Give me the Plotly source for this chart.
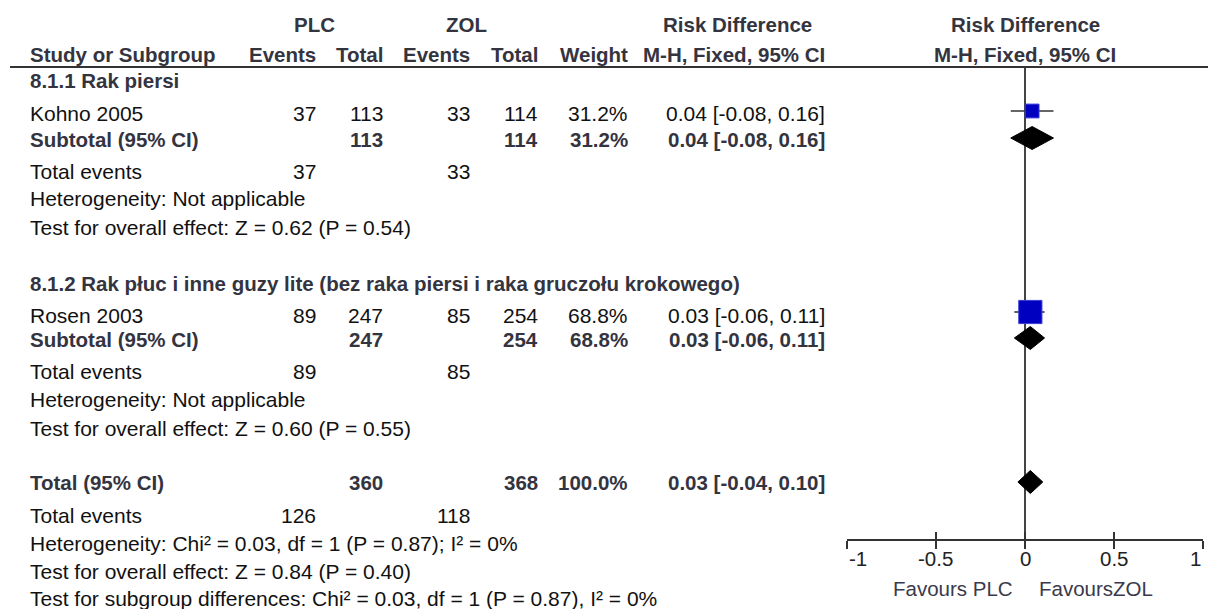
import plotly.graph_objects as go

W, H = 1208, 609

# ---- study data -----------------------------------------------------------
studies = ["Kohno 2005", "Rosen 2003"]
plc_events = [37, 89]
plc_total = [113, 247]
zol_events = [33, 85]
zol_total = [114, 254]
weights = [31.2, 68.8]
rd = [0.04, 0.03]
rd_lo = [-0.08, -0.06]
rd_hi = [0.16, 0.11]

# ---- subgroup pooled results ---------------------------------------------
subgroups = [
    "8.1.1 Rak piersi",
    "8.1.2 Rak płuc i inne guzy lite (bez raka piersi i raka gruczołu krokowego)",
]
sub_rd = [0.04, 0.03]
sub_lo = [-0.08, -0.06]
sub_hi = [0.16, 0.11]
sub_z = ["0.62", "0.60"]
sub_p = ["0.54", "0.55"]

# ---- overall pooled result -------------------------------------------------
total_plc_n = 360
total_zol_n = 368
total_plc_ev = 126
total_zol_ev = 118
total_weight = 100.0
total_rd = 0.03
total_lo = -0.04
total_hi = 0.10
het_text = "Heterogeneity: Chi² = 0.03, df = 1 (P = 0.87); I² = 0%"
overall_text = "Test for overall effect: Z = 0.84 (P = 0.40)"
subgroup_text = "Test for subgroup differences: Chi² = 0.03, df = 1 (P = 0.87), I² = 0%"

tick_vals = [-1, -0.5, 0, 0.5, 1]
tick_text = ["-1", "-0.5", "0", "0.5", "1"]

# ---- layout geometry (pixels) ---------------------------------------------
FONT = "Liberation Sans, Arial, sans-serif"
BOLD_C = "#34343f"
REG_C = "#111111"
LINE_C = "#333333"

col = dict(name=28, plc_ev=318, plc_tot=385, zol_ev=472, zol_tot=540, weight=630, ci=827)
grp = dict(plc=314, zol=466, rd=737, plot=1025)
plot_left, plot_right = 847, 1203

rows = dict(
    hdr1=25, hdr2=54, rule=67,
    g=[81, 283], study=[113, 315], sub=[139, 339], te=[171, 371], het=[198, 399], test=[227, 428],
    tot=482, te3=515, het3=543, test3=571, subg=598,
    axis=540, ticklab=558, favours=588,
)
mark_y = dict(study=[111, 312], sub=[138, 338], tot=482)

annotations = []


def txt(x, y, s, anchor="left", bold=False, size=None, color=None):
    annotations.append(dict(
        x=x / W, y=1 - y / H, xref="paper", yref="paper",
        xanchor=anchor, yanchor="middle", showarrow=False,
        text=f"<b>{s}</b>" if bold else s,
        font=dict(family=FONT, size=size or (20.5 if bold else 21),
                  color=color or (BOLD_C if bold else REG_C)),
    ))


def ci_str(e, lo, hi):
    return f"{e:.2f} [{lo:.2f}, {hi:.2f}]"


# headers
txt(grp["plc"], rows["hdr1"], "PLC", "center", True)
txt(grp["zol"], rows["hdr1"], "ZOL", "center", True)
txt(grp["rd"], rows["hdr1"], "Risk Difference", "center", True)
txt(grp["plot"], rows["hdr1"], "Risk Difference", "center", True)
txt(col["name"], rows["hdr2"], "Study or Subgroup", "left", True)
txt(col["plc_ev"], rows["hdr2"], "Events", "right", True)
txt(col["plc_tot"], rows["hdr2"], "Total", "right", True)
txt(col["zol_ev"], rows["hdr2"], "Events", "right", True)
txt(col["zol_tot"], rows["hdr2"], "Total", "right", True)
txt(col["weight"], rows["hdr2"], "Weight", "right", True)
txt(col["ci"], rows["hdr2"], "M-H, Fixed, 95% CI", "right", True)
txt(grp["plot"], rows["hdr2"], "M-H, Fixed, 95% CI", "center", True)

# subgroup blocks
for i in range(len(subgroups)):
    txt(col["name"], rows["g"][i], subgroups[i], "left", True)
    y = rows["study"][i]
    txt(col["name"], y, studies[i])
    txt(col["plc_ev"], y, str(plc_events[i]), "right")
    txt(col["plc_tot"], y, str(plc_total[i]), "right")
    txt(col["zol_ev"], y, str(zol_events[i]), "right")
    txt(col["zol_tot"], y, str(zol_total[i]), "right")
    txt(col["weight"], y, f"{weights[i]:.1f}%", "right")
    txt(col["ci"], y, ci_str(rd[i], rd_lo[i], rd_hi[i]), "right")
    y = rows["sub"][i]
    txt(col["name"], y, "Subtotal (95% CI)", "left", True)
    txt(col["plc_tot"], y, str(plc_total[i]), "right", True)
    txt(col["zol_tot"], y, str(zol_total[i]), "right", True)
    txt(col["weight"], y, f"{weights[i]:.1f}%", "right", True)
    txt(col["ci"], y, ci_str(sub_rd[i], sub_lo[i], sub_hi[i]), "right", True)
    y = rows["te"][i]
    txt(col["name"], y, "Total events")
    txt(col["plc_ev"], y, str(plc_events[i]), "right")
    txt(col["zol_ev"], y, str(zol_events[i]), "right")
    txt(col["name"], rows["het"][i], "Heterogeneity: Not applicable")
    txt(col["name"], rows["test"][i],
        f"Test for overall effect: Z = {sub_z[i]} (P = {sub_p[i]})")

# overall block
txt(col["name"], rows["tot"], "Total (95% CI)", "left", True)
txt(col["plc_tot"], rows["tot"], str(total_plc_n), "right", True)
txt(col["zol_tot"], rows["tot"], str(total_zol_n), "right", True)
txt(col["weight"], rows["tot"], f"{total_weight:.1f}%", "right", True)
txt(col["ci"], rows["tot"], ci_str(total_rd, total_lo, total_hi), "right", True)
txt(col["name"], rows["te3"], "Total events")
txt(col["plc_ev"], rows["te3"], str(total_plc_ev), "right")
txt(col["zol_ev"], rows["te3"], str(total_zol_ev), "right")
txt(col["name"], rows["het3"], het_text)
txt(col["name"], rows["test3"], overall_text)
txt(col["name"], rows["subg"], subgroup_text)

# favours labels under the axis
txt(grp["plot"] - 10, rows["favours"], "Favours PLC", "right", size=20.5, color="#3a3a4c")
txt(grp["plot"] + 12, rows["favours"], "FavoursZOL", "left", size=20.5, color="#3a3a4c")

# tick labels placed on the effect axis scale; the end labels sit inside the axis span
for k, (v, t) in enumerate(zip(tick_vals, tick_text)):
    anchor = "left" if k == 0 else ("right" if k == len(tick_vals) - 1 else "center")
    annotations.append(dict(
        x=v, xref="x", y=1 - rows["ticklab"] / H, yref="paper",
        xanchor=anchor, yanchor="middle", showarrow=False, text=t,
        font=dict(family=FONT, size=20.5, color="#222222"),
    ))

fig = go.Figure()

# study squares with confidence intervals
fig.add_trace(go.Scatter(
    x=rd, y=mark_y["study"], mode="markers",
    marker=dict(symbol="square", size=[6 + 0.25 * w for w in weights],
                color="#0000c0", opacity=1, line=dict(color="#3c3cd8", width=1)),
    error_x=dict(type="data", symmetric=False,
                 array=[h - e for h, e in zip(rd_hi, rd)],
                 arrayminus=[e - l for e, l in zip(rd, rd_lo)],
                 color=LINE_C, thickness=1.6, width=0),
    hoverinfo="skip", showlegend=False,
))

# pooled diamonds
HALF = 11.5
diamonds = [(e, lo, hi, y) for e, lo, hi, y in zip(sub_rd, sub_lo, sub_hi, mark_y["sub"])]
diamonds.append((total_rd, total_lo, total_hi, mark_y["tot"]))
for e, lo, hi, y in diamonds:
    fig.add_trace(go.Scatter(
        x=[lo, e, hi, e, lo], y=[y, y - HALF, y, y + HALF, y],
        mode="lines", fill="toself", fillcolor="#000000",
        line=dict(color="#000000", width=1),
        hoverinfo="skip", showlegend=False,
    ))

# helper trace so the upward tick axis is drawn
fig.add_trace(go.Scatter(x=[0], y=[rows["axis"]], xaxis="x2", mode="markers",
                         marker=dict(opacity=0), hoverinfo="skip", showlegend=False))

axis_pos = 1 - rows["axis"] / H
dom = [plot_left / W, plot_right / W]
fig.update_layout(
    width=W, height=H,
    margin=dict(l=0, r=0, t=0, b=0),
    paper_bgcolor="white", plot_bgcolor="rgba(0,0,0,0)",
    showlegend=False,
    annotations=annotations,
    xaxis=dict(
        domain=dom, range=[-1, 1], anchor="free", position=axis_pos,
        showgrid=False, zeroline=False,
        showline=True, linecolor=LINE_C, linewidth=2,
        ticks="outside", ticklen=8, tickwidth=2, tickcolor=LINE_C,
        tickvals=tick_vals, showticklabels=False,
        fixedrange=True,
    ),
    xaxis2=dict(
        domain=dom, range=[-1, 1], overlaying="x", anchor="free", position=axis_pos,
        showgrid=False, zeroline=False, showline=False,
        ticks="inside", ticklen=8, tickwidth=2, tickcolor=LINE_C,
        tickvals=tick_vals, showticklabels=False, fixedrange=True,
    ),
    yaxis=dict(
        domain=[0, 1], range=[H, 0], visible=False, fixedrange=True,
    ),
    shapes=[
        # rule under the column headers
        dict(type="line", xref="paper", yref="y", x0=10 / W, x1=1,
             y0=rows["rule"], y1=rows["rule"], line=dict(color=LINE_C, width=2)),
        # line of no effect
        dict(type="line", xref="x", yref="y", x0=0, x1=0,
             y0=rows["rule"], y1=rows["axis"], line=dict(color="#444444", width=2),
             layer="below"),
    ],
)

fig.write_html("out.html")
